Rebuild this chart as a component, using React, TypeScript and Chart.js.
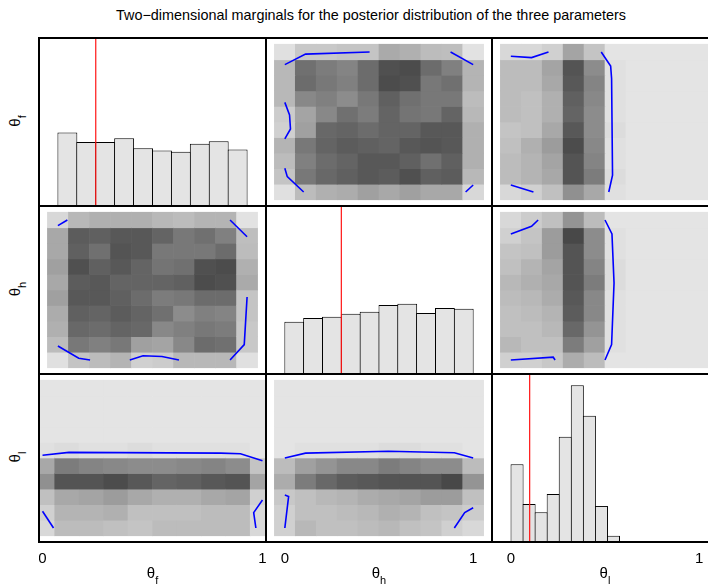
import React, { useEffect, useRef } from "react";
import { Chart, registerables } from "chart.js";

Chart.register(...registerables);

// ---------------- data ----------------
const TITLE = "Two\u2212dimensional marginals for the posterior distribution of the three parameters";
const PARAM_SUBSCRIPTS = ["f", "h", "l"];
const AXIS_TICKS = [0, 1];
const TRUE_VALUES = [0.2, 0.3, 0.1];

// centres of the 10 x 10 cells of every two-dimensional marginal
const GRID_CENTERS = [0, 0.1111, 0.2222, 0.3333, 0.4444, 0.5556, 0.6667, 0.7778, 0.8889, 1];
const GRID_STEP = 0.1111;

// one-dimensional marginals (histograms, counts out of ~1000 samples)
const HIST_BINS_F = [0.05, 0.15, 0.25, 0.35, 0.45, 0.55, 0.65, 0.75, 0.85, 0.95];
const HIST_BINS_H = [0.05, 0.15, 0.25, 0.35, 0.45, 0.55, 0.65, 0.75, 0.85, 0.95];
const HIST_BINS_L = [0.033, 0.097, 0.161, 0.225, 0.289, 0.353, 0.417, 0.481, 0.545, 0.609];
const HIST_COUNTS_F = [118, 103, 103, 109, 93, 89, 87, 100, 104, 91];
const HIST_COUNTS_H = [84, 90, 92, 97, 100, 111, 113, 98, 106, 105];
const HIST_COUNTS_L = [125, 61, 48, 77, 169, 252, 203, 58, 10, 1];
const HIST_MAX = 270;

// densities: rows = first parameter (0..1), columns = second parameter (0..1)
const DENSITY_FH = [
  [4, 40, 52, 56, 68, 60, 68, 60, 60, 12],
  [32, 108, 124, 132, 140, 136, 148, 132, 136, 44],
  [40, 100, 120, 128, 140, 140, 132, 116, 132, 52],
  [48, 108, 128, 136, 132, 128, 140, 144, 140, 52],
  [20, 68, 124, 128, 120, 128, 128, 140, 140, 52],
  [24, 64, 92, 116, 104, 128, 112, 108, 128, 44],
  [44, 92, 100, 88, 108, 132, 116, 108, 108, 40],
  [44, 120, 108, 100, 120, 152, 148, 108, 116, 48],
  [44, 116, 104, 96, 120, 148, 152, 120, 100, 48],
  [4, 28, 28, 32, 32, 58, 52, 40, 38, 2],
];
const DENSITY_FL = [
  [12, 20, 36, 84, 60, 4, 0, 0, 0, 0],
  [40, 48, 60, 144, 104, 8, 0, 0, 0, 0],
  [40, 48, 64, 144, 96, 4, 0, 0, 0, 0],
  [36, 52, 72, 152, 92, 4, 0, 0, 0, 0],
  [32, 36, 60, 140, 88, 8, 0, 0, 0, 0],
  [40, 36, 52, 128, 88, 4, 0, 0, 0, 0],
  [40, 36, 52, 132, 92, 4, 0, 0, 0, 0],
  [40, 40, 60, 140, 96, 4, 0, 0, 0, 0],
  [40, 40, 64, 144, 88, 4, 0, 0, 0, 0],
  [12, 12, 20, 64, 32, 0, 0, 0, 0, 0],
];
const DENSITY_HL = [
  [20, 20, 28, 56, 40, 0, 0, 0, 0, 0],
  [44, 36, 36, 104, 68, 4, 0, 0, 0, 0],
  [36, 36, 44, 124, 80, 4, 0, 0, 0, 0],
  [36, 40, 48, 136, 92, 4, 0, 0, 0, 0],
  [40, 44, 56, 140, 92, 4, 0, 0, 0, 0],
  [44, 52, 60, 144, 104, 8, 0, 0, 0, 0],
  [36, 48, 64, 144, 96, 8, 0, 0, 0, 0],
  [32, 36, 72, 144, 88, 4, 0, 0, 0, 0],
  [20, 32, 72, 156, 88, 4, 0, 0, 0, 0],
  [12, 24, 36, 80, 40, 0, 0, 0, 0, 0],
];

// contour segments, points are [first parameter, second parameter]
const CONTOUR_FH = [
  [[0.91, 0], [0.985, 0.11], [1.0, 0.45]],
  [[1.0, 0.88], [0.91, 1.0]],
  [[0.64, 0], [0.55, 0.025], [0.45, 0.03], [0.38, 0]],
  [[0.17, 0], [0.11, 0.013], [0.0, 0.1]],
  [[0, 0.96], [0.05, 1.0]],
];
const CONTOUR_FL = [
  [[0.97, 0], [0.96, 0.11], [1.0, 0.2]],
  [[1.0, 0.48], [0.9, 0.53], [0.81, 0.535], [0.12, 0.54], [0, 0.52]],
  [[0.05, 0], [0, 0.12]],
];
const CONTOUR_HL = [
  [[1.0, 0.5], [0.9, 0.537], [0.55, 0.548], [0.11, 0.535], [0, 0.5]],
  [[0, 0], [0.02, 0.225], [0, 0.235]],
  [[0.9, 0], [0.955, 0.11], [1.0, 0.145]],
];

// ---------------- layout / style ----------------
const FONT = "'Liberation Sans', Arial, Helvetica, sans-serif";
const PAGE_W = 708;
const PAGE_H = 584;
const COL_EDGES = [39, 266, 492, 718];
const ROW_EDGES = [38, 206, 374, 542];
const FULL_RANGE = [-0.1, 1.1];
const CORNER_X_RANGE = [-0.016, 1.016];

const HIST_BINS = [HIST_BINS_F, HIST_BINS_H, HIST_BINS_L];
const HIST_COUNTS = [HIST_COUNTS_F, HIST_COUNTS_H, HIST_COUNTS_L];
const PAIRS: Record<string, { density: number[][]; contour: number[][][] }> = {
  "0-1": { density: DENSITY_FH, contour: CONTOUR_FH },
  "0-2": { density: DENSITY_FL, contour: CONTOUR_FL },
  "1-2": { density: DENSITY_HL, contour: CONTOUR_HL },
};

function grayFor(d: number) {
  const g = Math.round(228 - d);
  return `rgb(${g},${g},${g})`;
}

function buildConfig(r: number, c: number, width: number, plotH: number, height: number): any {
  const xRange = r === 2 && c === 0 ? CORNER_X_RANGE : FULL_RANGE;
  const datasets: any[] = [];
  let yRange = FULL_RANGE;

  if (r === c) {
    const bins = HIST_BINS[c];
    const counts = HIST_COUNTS[c];
    const pxPerUnit = width / (xRange[1] - xRange[0]);
    const barPx = (bins[1] - bins[0]) * pxPerUnit;
    datasets.push({
      type: "line",
      data: [
        { x: TRUE_VALUES[c], y: 0 },
        { x: TRUE_VALUES[c], y: HIST_MAX },
      ],
      borderColor: "rgb(255,20,20)",
      backgroundColor: "rgb(255,20,20)",
      borderWidth: 1.2,
      pointRadius: 0,
      fill: false,
      order: 0,
    });
    datasets.push({
      type: "bar",
      data: bins.map((x, i) => ({ x, y: counts[i] })),
      backgroundColor: "#e4e4e4",
      borderColor: "#000000",
      borderWidth: 1,
      barPercentage: (barPx + 1) / barPx,
      categoryPercentage: 1,
      grouped: false,
      order: 2,
    });
    yRange = [0, HIST_MAX];
  } else {
    const a = Math.min(r, c);
    const b = Math.max(r, c);
    const pair = PAIRS[`${a}-${b}`];
    const xIsFirst = c === a;
    const cells: any[] = [];
    const colors: string[] = [];
    pair.density.forEach((row, i) => {
      row.forEach((d, j) => {
        const pa = GRID_CENTERS[i];
        const pb = GRID_CENTERS[j];
        const x = xIsFirst ? pa : pb;
        const y = xIsFirst ? pb : pa;
        cells.push({ x, y: [y - GRID_STEP / 2, y + GRID_STEP / 2] });
        colors.push(grayFor(d));
      });
    });
    pair.contour.forEach((seg) => {
      datasets.push({
        type: "line",
        data: seg.map((p) => ({ x: xIsFirst ? p[0] : p[1], y: xIsFirst ? p[1] : p[0] })),
        borderColor: "#0000ff",
        backgroundColor: "#0000ff",
        borderWidth: 1.6,
        pointRadius: 0,
        fill: false,
        tension: 0,
        order: 0,
      });
    });
    datasets.push({
      type: "bar",
      data: cells,
      backgroundColor: colors,
      borderWidth: 0,
      barPercentage: 1,
      categoryPercentage: 1,
      grouped: false,
      order: 2,
    });
  }

  const bottom = r === 2;
  return {
    type: "bar",
    data: { datasets },
    options: {
      responsive: false,
      maintainAspectRatio: false,
      animation: false,
      events: [],
      layout: { padding: 0, autoPadding: false },
      plugins: { legend: { display: false }, tooltip: { enabled: false }, title: { display: false } },
      scales: {
        x: {
          type: "linear",
          min: xRange[0],
          max: xRange[1],
          offset: false,
          display: bottom,
          grid: { display: false, drawTicks: false },
          border: { display: false },
          ticks: {
            padding: 8,
            color: "#000",
            maxRotation: 0,
            autoSkip: false,
            font: { family: FONT, size: 15 },
          },
          afterBuildTicks: (s: any) => {
            s.ticks = AXIS_TICKS.map((v) => ({ value: v }));
          },
          afterFit: (s: any) => {
            s.height = height - plotH;
            s.paddingLeft = 0;
            s.paddingRight = 0;
          },
        },
        y: {
          type: "linear",
          min: yRange[0],
          max: yRange[1],
          display: false,
        },
      },
    },
  };
}

function Panel({ r, c }: { r: number; c: number }) {
  const ref = useRef<HTMLCanvasElement | null>(null);
  const width = COL_EDGES[c + 1] - COL_EDGES[c];
  const plotH = ROW_EDGES[r + 1] - ROW_EDGES[r];
  const height = r === 2 ? PAGE_H - ROW_EDGES[r] : plotH;
  useEffect(() => {
    const chart = new Chart(ref.current as HTMLCanvasElement, buildConfig(r, c, width, plotH, height));
    return () => chart.destroy();
  }, [r, c, width, plotH, height]);
  return (
    <canvas
      ref={ref}
      width={width}
      height={height}
      style={{ position: "absolute", left: COL_EDGES[c], top: ROW_EDGES[r], width, height }}
    />
  );
}

function Theta({ sub, style }: { sub: string; style: React.CSSProperties }) {
  return (
    <div
      style={{
        position: "absolute",
        fontFamily: FONT,
        fontSize: 15,
        lineHeight: "16px",
        whiteSpace: "nowrap",
        color: "#000",
        ...style,
      }}
    >
      θ<span style={{ fontSize: 11, position: "relative", top: 6 }}>{sub}</span>
    </div>
  );
}

export default function App() {
  const panels: JSX.Element[] = [];
  for (let r = 0; r < 3; r++) for (let c = 0; c < 3; c++) panels.push(<Panel key={`${r}-${c}`} r={r} c={c} />);

  const lines: JSX.Element[] = [];
  COL_EDGES.forEach((x, i) =>
    lines.push(
      <div
        key={`v${i}`}
        style={{
          position: "absolute",
          left: x - 1,
          top: ROW_EDGES[0] - 1,
          width: 2,
          height: ROW_EDGES[3] - ROW_EDGES[0] + 2,
          background: "#000",
        }}
      />
    )
  );
  ROW_EDGES.forEach((y, i) =>
    lines.push(
      <div
        key={`h${i}`}
        style={{
          position: "absolute",
          left: COL_EDGES[0] - 1,
          top: y - 1,
          width: COL_EDGES[3] - COL_EDGES[0] + 2,
          height: 2,
          background: "#000",
        }}
      />
    )
  );

  return (
    <div
      style={{
        position: "absolute",
        left: 0,
        top: 0,
        width: PAGE_W,
        height: PAGE_H,
        overflow: "hidden",
        background: "#fff",
      }}
    >
      {panels}
      {lines}
      <div
        style={{
          position: "absolute",
          left: 371,
          top: 7,
          transform: "translateX(-50%)",
          fontFamily: FONT,
          fontSize: 14.4,
          lineHeight: "16px",
          whiteSpace: "nowrap",
          color: "#000",
        }}
      >
        {TITLE}
      </div>
      {PARAM_SUBSCRIPTS.map((s, i) => (
        <Theta
          key={`x${s}`}
          sub={s}
          style={{ left: (COL_EDGES[i] + COL_EDGES[i + 1]) / 2, top: 564.5, transform: "translateX(-50%)" }}
        />
      ))}
      {PARAM_SUBSCRIPTS.map((s, i) => (
        <Theta
          key={`y${s}`}
          sub={s}
          style={{
            left: 14.7,
            top: (ROW_EDGES[i] + ROW_EDGES[i + 1]) / 2 - 1.5,
            transform: "translate(-50%, -50%) rotate(-90deg)",
          }}
        />
      ))}
    </div>
  );
}
